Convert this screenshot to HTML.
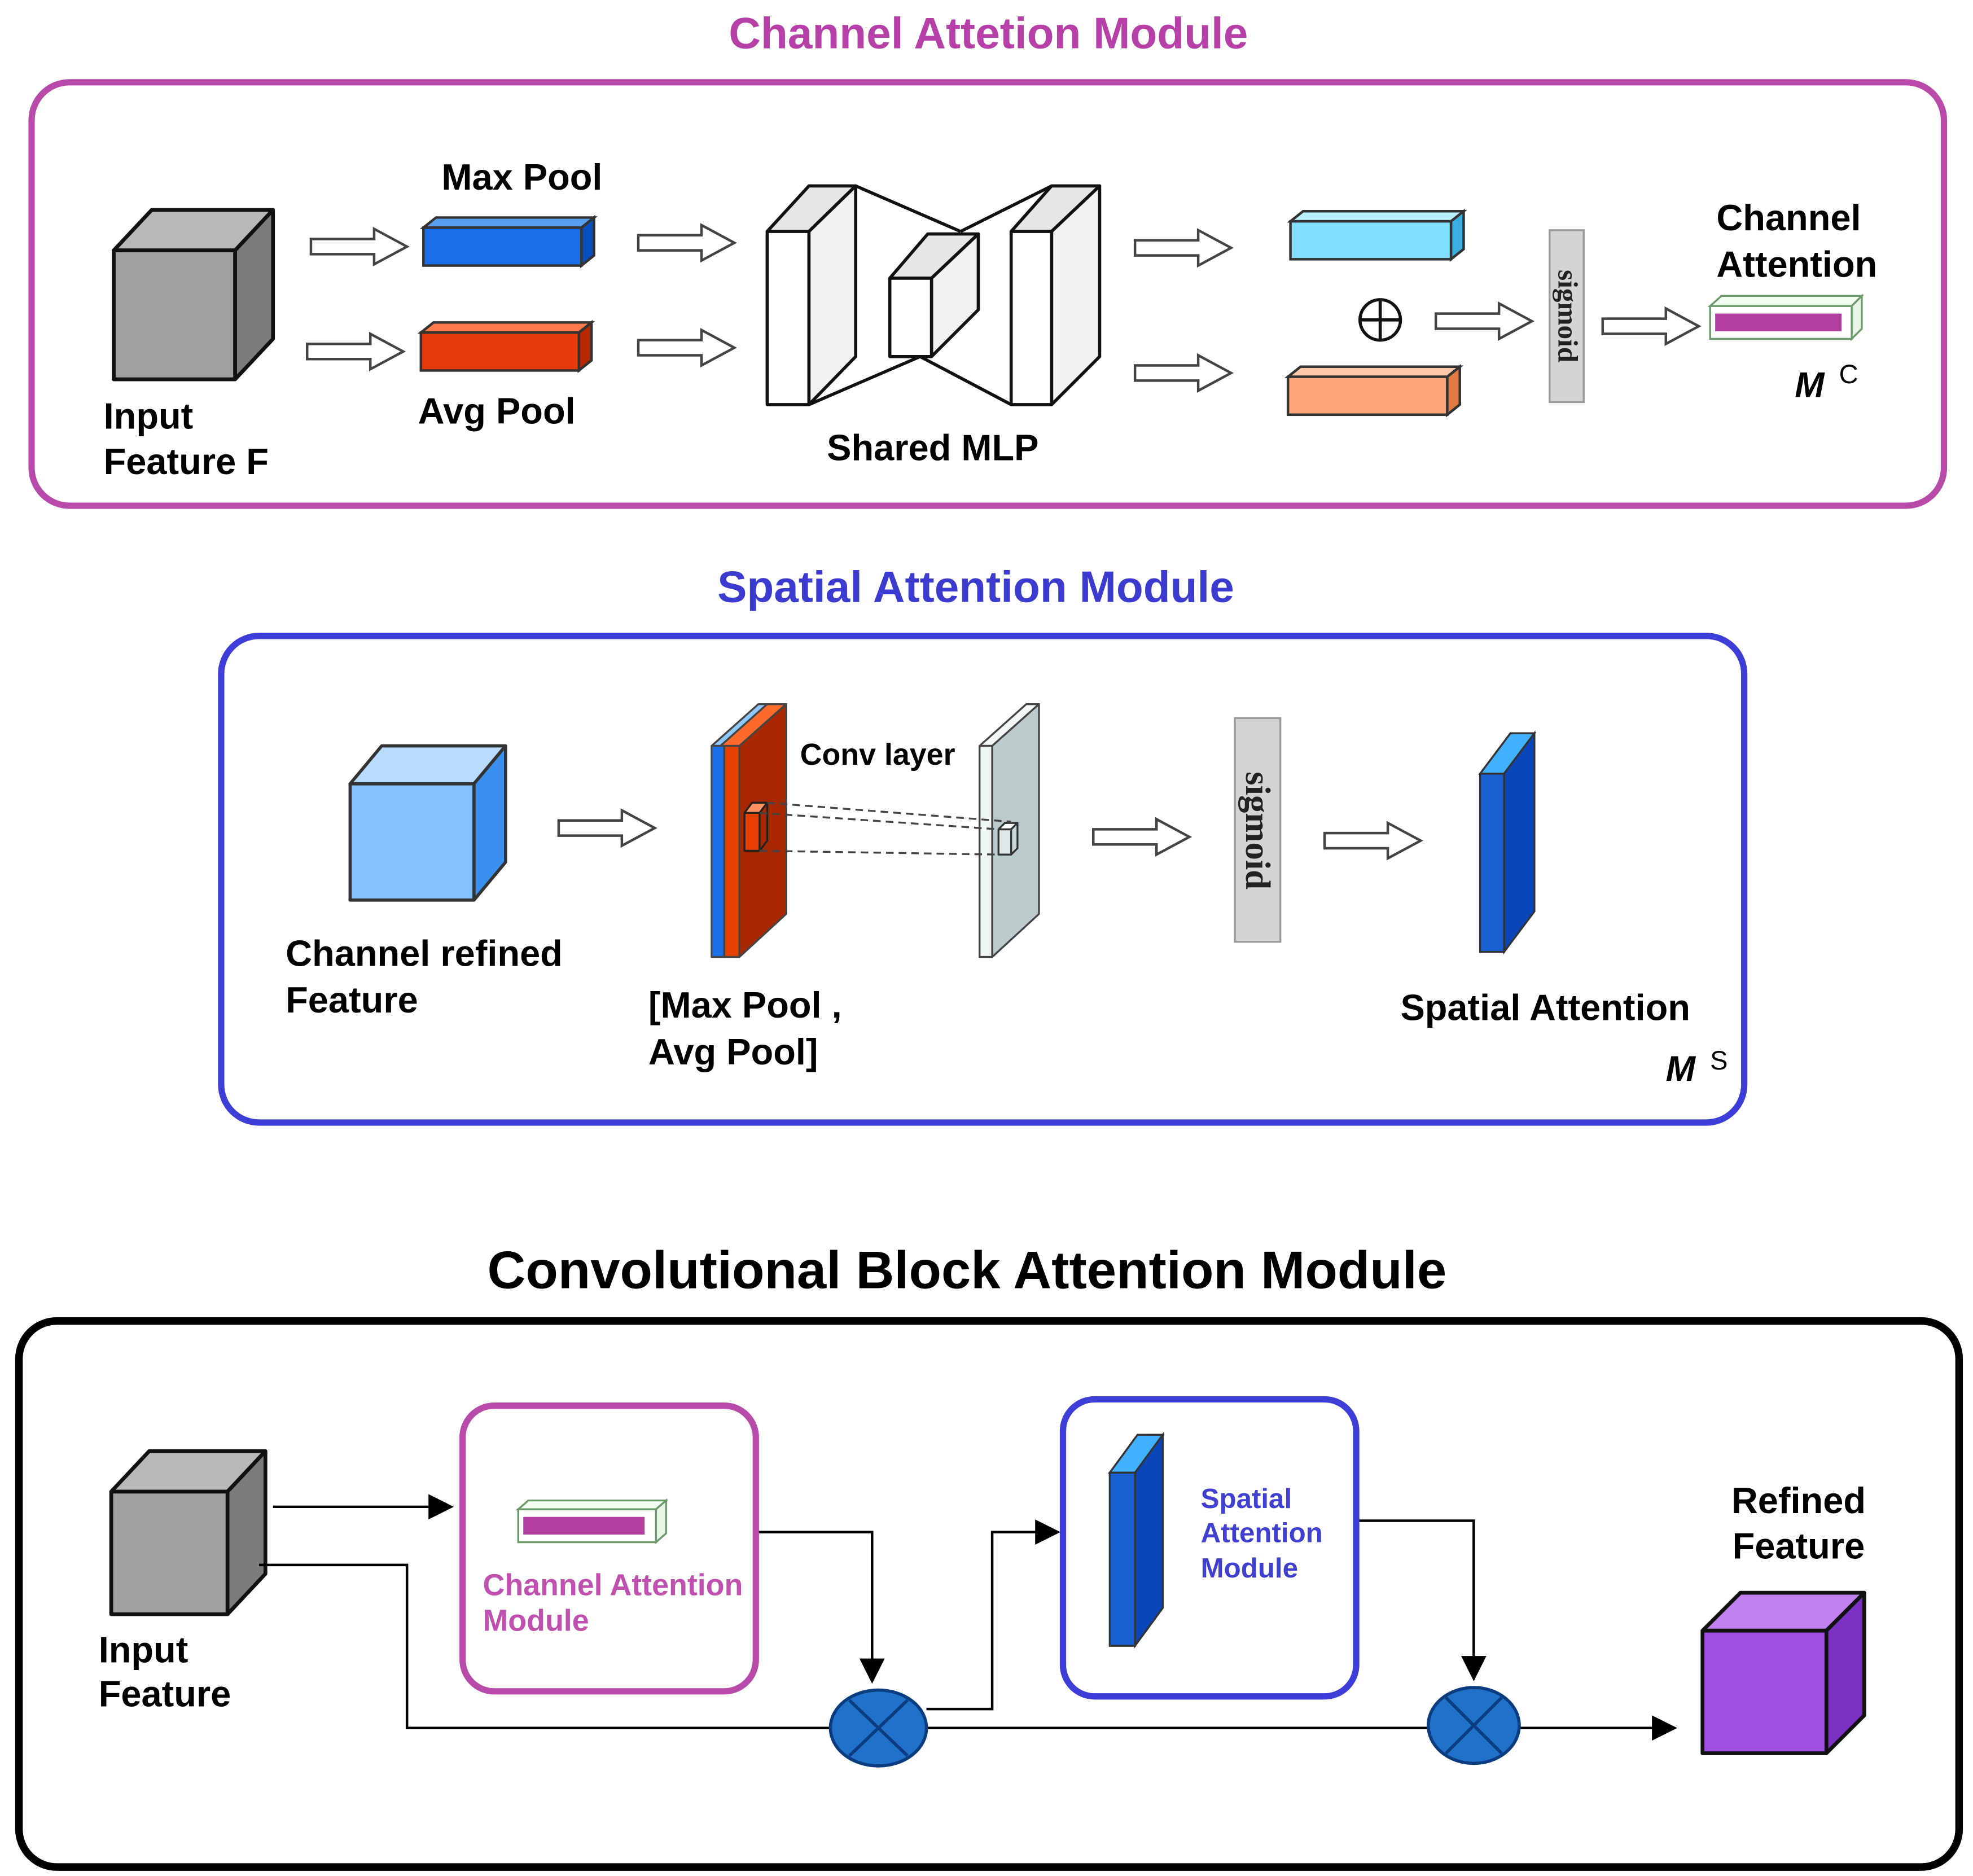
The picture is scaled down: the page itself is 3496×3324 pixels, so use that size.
<!DOCTYPE html>
<html><head><meta charset="utf-8"><style>html,body{margin:0;padding:0;background:#fff}svg{display:block}</style></head><body>
<svg width="3496" height="3324" viewBox="0 0 1561 1484" xmlns="http://www.w3.org/2000/svg" font-family="Liberation Sans, Arial, sans-serif">
<defs>
<g id="ha"><path d="M0,-6 L50,-6 L50,-14 L76,0 L50,14 L50,6 L0,6 Z" fill="#fff" stroke="#444" stroke-width="2"/></g>
<marker id="ah2" viewBox="0 0 10 10" markerWidth="20" markerHeight="20" refX="9" refY="5" orient="auto" markerUnits="userSpaceOnUse"><path d="M0,0 L10,5 L0,10 Z" fill="#000"/></marker>
</defs>
<!-- Channel Attention Module -->
<text x="782" y="38" text-anchor="middle" font-size="35" font-weight="bold" fill="#b640a8">Channel Attetion Module</text>
<rect x="25" y="65" width="1513" height="335" rx="30" fill="none" stroke="#b84aaa" stroke-width="5"/>
<g stroke="#111" stroke-width="3" stroke-linejoin="round">
<polygon points="90,198 120,166 216,166 186,198" fill="#b8b8b8"/>
<polygon points="186,198 216,166 216,268 186,300" fill="#7c7c7c"/>
<rect x="90" y="198" width="96" height="102" fill="#a0a0a0"/>
</g>
<text x="82" y="339" font-size="29" font-weight="bold">Input</text>
<text x="82" y="375" font-size="29" font-weight="bold">Feature F</text>
<use href="#ha" x="246" y="195"/><use href="#ha" x="243" y="278"/>
<use href="#ha" x="505" y="192"/><use href="#ha" x="505" y="275"/>
<use href="#ha" x="898" y="196"/><use href="#ha" x="898" y="295"/>
<use href="#ha" x="1136" y="254"/><use href="#ha" x="1268" y="258"/>
<text x="413" y="150" font-size="29" font-weight="bold" text-anchor="middle">Max Pool</text>
<g stroke="#333" stroke-width="2">
<polygon points="335,180 345,172 470,172 460,180" fill="#5aa0f0"/><polygon points="460,180 470,172 470,202 460,210" fill="#0a4fc0"/><rect x="335" y="180" width="125" height="30" fill="#1a6fe8"/>
<polygon points="333,263 343,255 468,255 458,263" fill="#ff7a4a"/><polygon points="458,263 468,255 468,285 458,293" fill="#b52800"/><rect x="333" y="263" width="125" height="30" fill="#e83a0b"/>
</g>
<text x="393" y="335" font-size="29" font-weight="bold" text-anchor="middle">Avg Pool</text>
<g stroke="#111" stroke-width="2.5" stroke-linejoin="round" fill="#fff">
<line x1="677" y1="147" x2="760" y2="183"/><line x1="760" y1="183" x2="832" y2="147"/>
<line x1="640" y1="320" x2="728" y2="282"/><line x1="728" y1="282" x2="800" y2="320"/>
<polygon points="607,183 640,147 677,147 640,183" fill="#e6e6e6"/><polygon points="640,183 677,147 677,282 640,320" fill="#f2f2f2"/><rect x="607" y="183" width="33" height="137"/>
<polygon points="704,220 734,185 774,185 737,220" fill="#e6e6e6"/><polygon points="737,220 774,185 774,245 737,282" fill="#f2f2f2"/><rect x="704" y="220" width="33" height="62"/>
<polygon points="800,183 832,147 870,147 832,183" fill="#e6e6e6"/><polygon points="832,183 870,147 870,282 832,320" fill="#f2f2f2"/><rect x="800" y="183" width="32" height="137"/>
</g>
<text x="738" y="364" font-size="29" font-weight="bold" text-anchor="middle">Shared MLP</text>
<g stroke="#333" stroke-width="2">
<polygon points="1021,175 1031,167 1158,167 1148,175" fill="#b8efff"/><polygon points="1148,175 1158,167 1158,197 1148,205" fill="#3ab0e0"/><rect x="1021" y="175" width="127" height="30" fill="#80dfff"/>
<polygon points="1019,298 1029,290 1155,290 1145,298" fill="#ffc8a8"/><polygon points="1145,298 1155,290 1155,320 1145,328" fill="#e07a40"/><rect x="1019" y="298" width="126" height="30" fill="#ffa77a"/>
</g>
<circle cx="1092" cy="253" r="16" fill="#fff" stroke="#111" stroke-width="2.5"/><line x1="1076" y1="253" x2="1108" y2="253" stroke="#111" stroke-width="2.5"/><line x1="1092" y1="237" x2="1092" y2="269" stroke="#111" stroke-width="2.5"/>
<rect x="1226" y="182" width="27" height="136" fill="#d4d4d4" stroke="#999" stroke-width="1.5"/>
<text transform="translate(1233,250) rotate(90)" font-family="Liberation Serif, serif" font-size="22" font-weight="bold" text-anchor="middle" fill="#222">sigmoid</text>
<text x="1358" y="182" font-size="29" font-weight="bold">Channel</text>
<text x="1358" y="219" font-size="29" font-weight="bold">Attention</text>
<g stroke="#6a9a6a" stroke-width="1.5"><polygon points="1353,242 1362,234 1473,234 1465,242" fill="#f4fff4"/><polygon points="1465,242 1473,234 1473,260 1465,268" fill="#e8f4e8"/><rect x="1353" y="242" width="112" height="26" fill="#fff"/></g>
<rect x="1357" y="248" width="100" height="14" fill="#b23fa0"/>
<text x="1420" y="314" font-size="28" font-weight="bold" font-style="italic">M</text><text x="1455" y="303" font-size="21">C</text>

<!-- Spatial Attention Module -->
<text x="772" y="476" text-anchor="middle" font-size="35" font-weight="bold" fill="#3b3bd0">Spatial Attention Module</text>
<rect x="175" y="503" width="1205" height="385" rx="30" fill="none" stroke="#3d3dd8" stroke-width="5"/>
<g stroke="#333" stroke-width="2.5" stroke-linejoin="round">
<polygon points="277,620 302,590 400,590 375,620" fill="#b8dcff"/><polygon points="375,620 400,590 400,682 375,712" fill="#3a90ee"/><rect x="277" y="620" width="98" height="92" fill="#85c0ff"/>
</g>
<text x="226" y="764" font-size="29" font-weight="bold">Channel refined</text>
<text x="226" y="801" font-size="29" font-weight="bold">Feature</text>
<use href="#ha" x="442" y="655"/><use href="#ha" x="865" y="662"/><use href="#ha" x="1048" y="665"/>
<g stroke="#444" stroke-width="1.5" stroke-linejoin="round">
<polygon points="563,590 600,557 607,557 570,590" fill="#8ec8ff"/><polygon points="570,590 607,557 622,557 585,590" fill="#ff6a2a"/>
<polygon points="585,590 622,557 622,723 585,757" fill="#a82800"/>
<rect x="563" y="590" width="10" height="167" fill="#1a70e8"/><rect x="573" y="590" width="12" height="167" fill="#e84000"/>
<rect x="589" y="643" width="12" height="30" fill="#e84000" stroke="#222"/><polygon points="589,643 595,635 607,635 601,643" fill="#ff9060" stroke="#222"/><polygon points="601,643 607,635 607,665 601,673" fill="#a82800" stroke="#222"/>
<polygon points="775,590 812,557 822,557 785,590" fill="#f2f8f8"/>
<polygon points="785,590 822,557 822,723 785,757" fill="#bccccc"/>
<rect x="775" y="590" width="10" height="167" fill="#eef6f6"/>
<rect x="790" y="656" width="10" height="20" fill="#dde8e8" stroke="#333"/><polygon points="790,656 795,651 805,651 800,656" fill="#fff" stroke="#333"/><polygon points="800,656 805,651 805,671 800,676" fill="#c8d8d8" stroke="#333"/>
</g>
<g stroke="#444" stroke-width="1.5" stroke-dasharray="6,4" fill="none">
<line x1="607" y1="635" x2="800" y2="650"/><line x1="601" y1="643" x2="790" y2="656"/><line x1="601" y1="673" x2="790" y2="676"/>
</g>
<text x="633" y="605" font-size="24" font-weight="bold">Conv layer</text>
<text x="513" y="805" font-size="29" font-weight="bold">[Max Pool ,</text>
<text x="513" y="842" font-size="29" font-weight="bold">Avg Pool]</text>
<rect x="977" y="568" width="36" height="177" fill="#d4d4d4" stroke="#999" stroke-width="1.5"/>
<text transform="translate(986,657) rotate(90)" font-family="Liberation Serif, serif" font-size="28" font-weight="bold" text-anchor="middle" fill="#222">sigmoid</text>
<g stroke="#333" stroke-width="1.5"><polygon points="1171,612 1195,580 1214,580 1190,612" fill="#40b0ff"/><polygon points="1190,612 1214,580 1214,721 1190,753" fill="#0a46b8"/><rect x="1171" y="612" width="19" height="141" fill="#1a60d0"/></g>
<text x="1108" y="807" font-size="29" font-weight="bold">Spatial Attention</text>
<text x="1318" y="855" font-size="28" font-weight="bold" font-style="italic">M</text><text x="1353" y="846" font-size="21">S</text>

<!-- CBAM -->
<text x="765" y="1019" text-anchor="middle" font-size="42" font-weight="bold">Convolutional Block Attention Module</text>
<rect x="15" y="1045" width="1535" height="432" rx="30" fill="none" stroke="#000" stroke-width="6"/>
<g stroke="#111" stroke-width="3" stroke-linejoin="round">
<polygon points="88,1180 118,1148 210,1148 180,1180" fill="#b8b8b8"/><polygon points="180,1180 210,1148 210,1245 180,1277" fill="#7c7c7c"/><rect x="88" y="1180" width="92" height="97" fill="#a0a0a0"/>
</g>
<text x="78" y="1315" font-size="29" font-weight="bold">Input</text>
<text x="78" y="1350" font-size="29" font-weight="bold">Feature</text>
<g stroke="#000" stroke-width="2" fill="none">
<line x1="216" y1="1192" x2="357" y2="1192" marker-end="url(#ah2)"/>
<polyline points="205,1238 322,1238 322,1367 657,1367"/>
<polyline points="598,1212 690,1212 690,1330" marker-end="url(#ah2)"/>
<polyline points="733,1352 785,1352 785,1212 837,1212" marker-end="url(#ah2)"/>
<polyline points="1073,1203 1166,1203 1166,1328" marker-end="url(#ah2)"/>
<line x1="733" y1="1367" x2="1130" y2="1367"/>
<line x1="1202" y1="1367" x2="1325" y2="1367" marker-end="url(#ah2)"/>
</g>
<rect x="366" y="1112" width="232" height="226" rx="25" fill="#fff" stroke="#b84aaa" stroke-width="5"/>
<g stroke="#6a9a6a" stroke-width="1.5"><polygon points="410,1194 418,1187 527,1187 519,1194" fill="#f4fff4"/><polygon points="519,1194 527,1187 527,1213 519,1220" fill="#e8f4e8"/><rect x="410" y="1194" width="109" height="26" fill="#fff"/></g>
<rect x="414" y="1200" width="96" height="14" fill="#b23fa0"/>
<text x="382" y="1262" font-size="24" font-weight="bold" fill="#c050b0">Channel Attention</text>
<text x="382" y="1290" font-size="24" font-weight="bold" fill="#c050b0">Module</text>
<rect x="841" y="1107" width="232" height="235" rx="25" fill="#fff" stroke="#3d3dd8" stroke-width="5"/>
<g stroke="#333" stroke-width="1.5"><polygon points="878,1165 900,1135 920,1135 898,1165" fill="#40b0ff"/><polygon points="898,1165 920,1135 920,1272 898,1302" fill="#0a46b8"/><rect x="878" y="1165" width="20" height="137" fill="#1a60d0"/></g>
<text x="950" y="1193" font-size="22" font-weight="bold" fill="#4040d0">Spatial</text>
<text x="950" y="1220" font-size="22" font-weight="bold" fill="#4040d0">Attention</text>
<text x="950" y="1248" font-size="22" font-weight="bold" fill="#4040d0">Module</text>
<g stroke="#0a3d80" stroke-width="2.5">
<ellipse cx="695" cy="1367" rx="38" ry="30" fill="#1f72c8"/><line x1="672" y1="1345" x2="718" y2="1389"/><line x1="718" y1="1345" x2="672" y2="1389"/>
<ellipse cx="1166" cy="1365" rx="36" ry="30" fill="#1f72c8"/><line x1="1144" y1="1343" x2="1188" y2="1387"/><line x1="1188" y1="1343" x2="1144" y2="1387"/>
</g>
<text x="1423" y="1197" font-size="29" font-weight="bold" text-anchor="middle">Refined</text>
<text x="1423" y="1233" font-size="29" font-weight="bold" text-anchor="middle">Feature</text>
<g stroke="#111" stroke-width="3" stroke-linejoin="round">
<polygon points="1347,1290 1377,1260 1475,1260 1445,1290" fill="#c080f0"/><polygon points="1445,1290 1475,1260 1475,1357 1445,1387" fill="#7a30c0"/><rect x="1347" y="1290" width="98" height="97" fill="#a050e0"/>
</g>
</svg>
</body></html>
